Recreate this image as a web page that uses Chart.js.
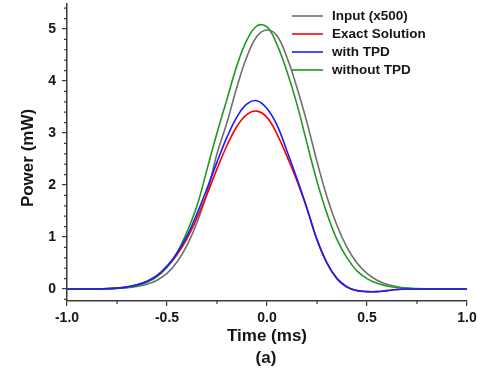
<!DOCTYPE html>
<html>
<head>
<meta charset="utf-8">
<script src="https://cdn.jsdelivr.net/npm/chart.js@4"></script>
<style>
  html, body { margin: 0; padding: 0; background: #fff; }
  #wrap { width: 477px; height: 374px; }
</style>
</head>
<body>
<div id="wrap"><canvas id="chart" width="477" height="374"></canvas></div>
<script>
// time axis (ms)
const times = [
  -1.0, -0.95, -0.9, -0.85, -0.8, -0.75, -0.7, -0.65, -0.6, -0.55,
  -0.5, -0.45, -0.4, -0.35, -0.3, -0.25, -0.2, -0.15, -0.1, -0.05,
  0.0, 0.05, 0.1, 0.15, 0.2, 0.25, 0.3, 0.35, 0.4, 0.45,
  0.5, 0.55, 0.6, 0.65, 0.7, 0.75, 0.8, 0.85, 0.9, 0.95, 1.0,
];

// power (mW)
const inputX500 = [
  0, 0, 0, 0.002, 0.005, 0.012, 0.025, 0.05, 0.09, 0.17,
  0.3, 0.52, 0.84, 1.28, 1.84, 2.6, 3.2, 3.89, 4.47, 4.86,
  4.98, 4.87, 4.45, 3.87, 3.2, 2.45, 1.77, 1.22, 0.8, 0.5,
  0.3, 0.17, 0.09, 0.045, 0.02, 0.008, 0.003, 0, 0, 0, 0,
];
const exactSolution = [
  0, 0, 0, 0.002, 0.007, 0.018, 0.04, 0.08, 0.145, 0.25,
  0.42, 0.66, 0.97, 1.37, 1.82, 2.31, 2.76, 3.13, 3.36, 3.42,
  3.3, 2.98, 2.55, 2.08, 1.55, 0.95, 0.5, 0.2, 0.04, -0.03,
  -0.05, -0.05, -0.03, -0.01, 0, 0, 0, 0, 0, 0, 0,
];
const withTPD = [
  0, 0, 0, 0.002, 0.007, 0.018, 0.041, 0.081, 0.15, 0.26,
  0.44, 0.69, 1.02, 1.45, 1.93, 2.44, 2.92, 3.31, 3.56, 3.62,
  3.47, 3.15, 2.65, 2.12, 1.55, 0.95, 0.5, 0.2, 0.04, -0.03,
  -0.05, -0.05, -0.03, -0.01, 0, 0, 0, 0, 0, 0, 0,
];
const withoutTPD = [
  0, 0, 0, 0.002, 0.006, 0.014, 0.03, 0.065, 0.13, 0.24,
  0.42, 0.7, 1.1, 1.6, 2.3, 3.0, 3.65, 4.3, 4.79, 5.06,
  5.04, 4.7, 4.18, 3.55, 2.8, 2.07, 1.45, 0.95, 0.6, 0.35,
  0.2, 0.11, 0.06, 0.03, 0.012, 0.005, 0, 0, 0, 0, 0,
];

const seriesNames = ["Input (x500)", "Exact Solution", "with TPD", "without TPD"];
const seriesColors = ["#6e6e6e", "#ff0000", "#1a1aff", "#1f9a1f"];
const seriesValues = [inputX500, exactSolution, withTPD, withoutTPD];
const drawOrder = [3, 2, 0, 1];

const xMajor = [-1.0, -0.5, 0.0, 0.5, 1.0];
const xMinor = [-0.75, -0.25, 0.25, 0.75];
const yMajor = [0, 1, 2, 3, 4, 5];
const yMinor = [];
for (let i = -1; i <= 27; i++) if (i % 5 !== 0) yMinor.push(i / 5);

const AXIS = "#3a3a3a";
const TEXT = "#151515";
const FONT = "'Liberation Sans', Arial, sans-serif";

const extras = {
  id: "extras",
  afterDraw(chart) {
    const { ctx, chartArea: a, scales } = chart;
    ctx.save();
    // minor ticks
    ctx.strokeStyle = AXIS;
    ctx.lineWidth = 1.2;
    ctx.beginPath();
    xMinor.forEach((v) => {
      const px = scales.x.getPixelForValue(v);
      ctx.moveTo(px, a.bottom);
      ctx.lineTo(px, a.bottom + 3);
    });
    yMinor.forEach((v) => {
      const py = scales.y.getPixelForValue(v);
      ctx.moveTo(a.left, py);
      ctx.lineTo(a.left - 3, py);
    });
    ctx.stroke();

    // legend
    ctx.font = "bold 13.5px " + FONT;
    ctx.textBaseline = "middle";
    ctx.textAlign = "left";
    seriesNames.forEach((name, i) => {
      const y = 16 + i * 18;
      ctx.strokeStyle = seriesColors[i];
      ctx.lineWidth = 1.6;
      ctx.beginPath();
      ctx.moveTo(292, y);
      ctx.lineTo(323, y);
      ctx.stroke();
      ctx.fillStyle = TEXT;
      ctx.fillText(name, 332, y + 0.5);
    });

    // axis titles
    ctx.fillStyle = TEXT;
    ctx.font = "bold 17px " + FONT;
    ctx.textAlign = "center";
    ctx.fillText("Time (ms)", 267, 336);
    ctx.fillText("(a)", 266, 358);
    ctx.translate(28, 158);
    ctx.rotate(-Math.PI / 2);
    ctx.fillText("Power (mW)", 0, 0);
    ctx.restore();
  },
};

new Chart(document.getElementById("chart"), {
  type: "line",
  data: {
    datasets: seriesNames.map((name, i) => ({
      label: name,
      data: times.map((t, k) => ({ x: t, y: seriesValues[i][k] })),
      borderColor: seriesColors[i],
      borderWidth: 1.6,
      pointRadius: 0,
      fill: false,
      tension: 0.4,
      order: drawOrder[i],
    })),
  },
  options: {
    responsive: false,
    animation: false,
    events: [],
    layout: { padding: { top: 4, right: 10, left: 0, bottom: 0 } },
    plugins: { legend: { display: false }, tooltip: { enabled: false } },
    scales: {
      x: {
        type: "linear",
        min: -1,
        max: 1,
        afterBuildTicks: (s) => { s.ticks = xMajor.map((v) => ({ value: v })); },
        afterFit: (s) => {
          s.height = 73;
          s.paddingLeft = 0;
          s.paddingRight = 0;
        },
        ticks: {
          callback: (v) => v.toFixed(1),
          color: TEXT,
          font: { family: FONT, size: 14, weight: "bold" },
          padding: 4,
          maxRotation: 0,
        },
        grid: { drawOnChartArea: false, drawTicks: true, tickLength: 5, color: AXIS, lineWidth: 1.2 },
        border: { display: true, color: AXIS, width: 1.5 },
      },
      y: {
        min: -0.23,
        max: 5.48,
        afterBuildTicks: (s) => { s.ticks = yMajor.map((v) => ({ value: v })); },
        afterFit: (s) => {
          s.width = 67;
          s.paddingTop = 0;
          s.paddingBottom = 0;
        },
        ticks: {
          callback: (v) => String(v),
          color: TEXT,
          font: { family: FONT, size: 14, weight: "bold" },
          padding: 6,
        },
        grid: { drawOnChartArea: false, drawTicks: true, tickLength: 5, color: AXIS, lineWidth: 1.2 },
        border: { display: true, color: AXIS, width: 1.5 },
      },
    },
  },
  plugins: [extras],
});
</script>
</body>
</html>
